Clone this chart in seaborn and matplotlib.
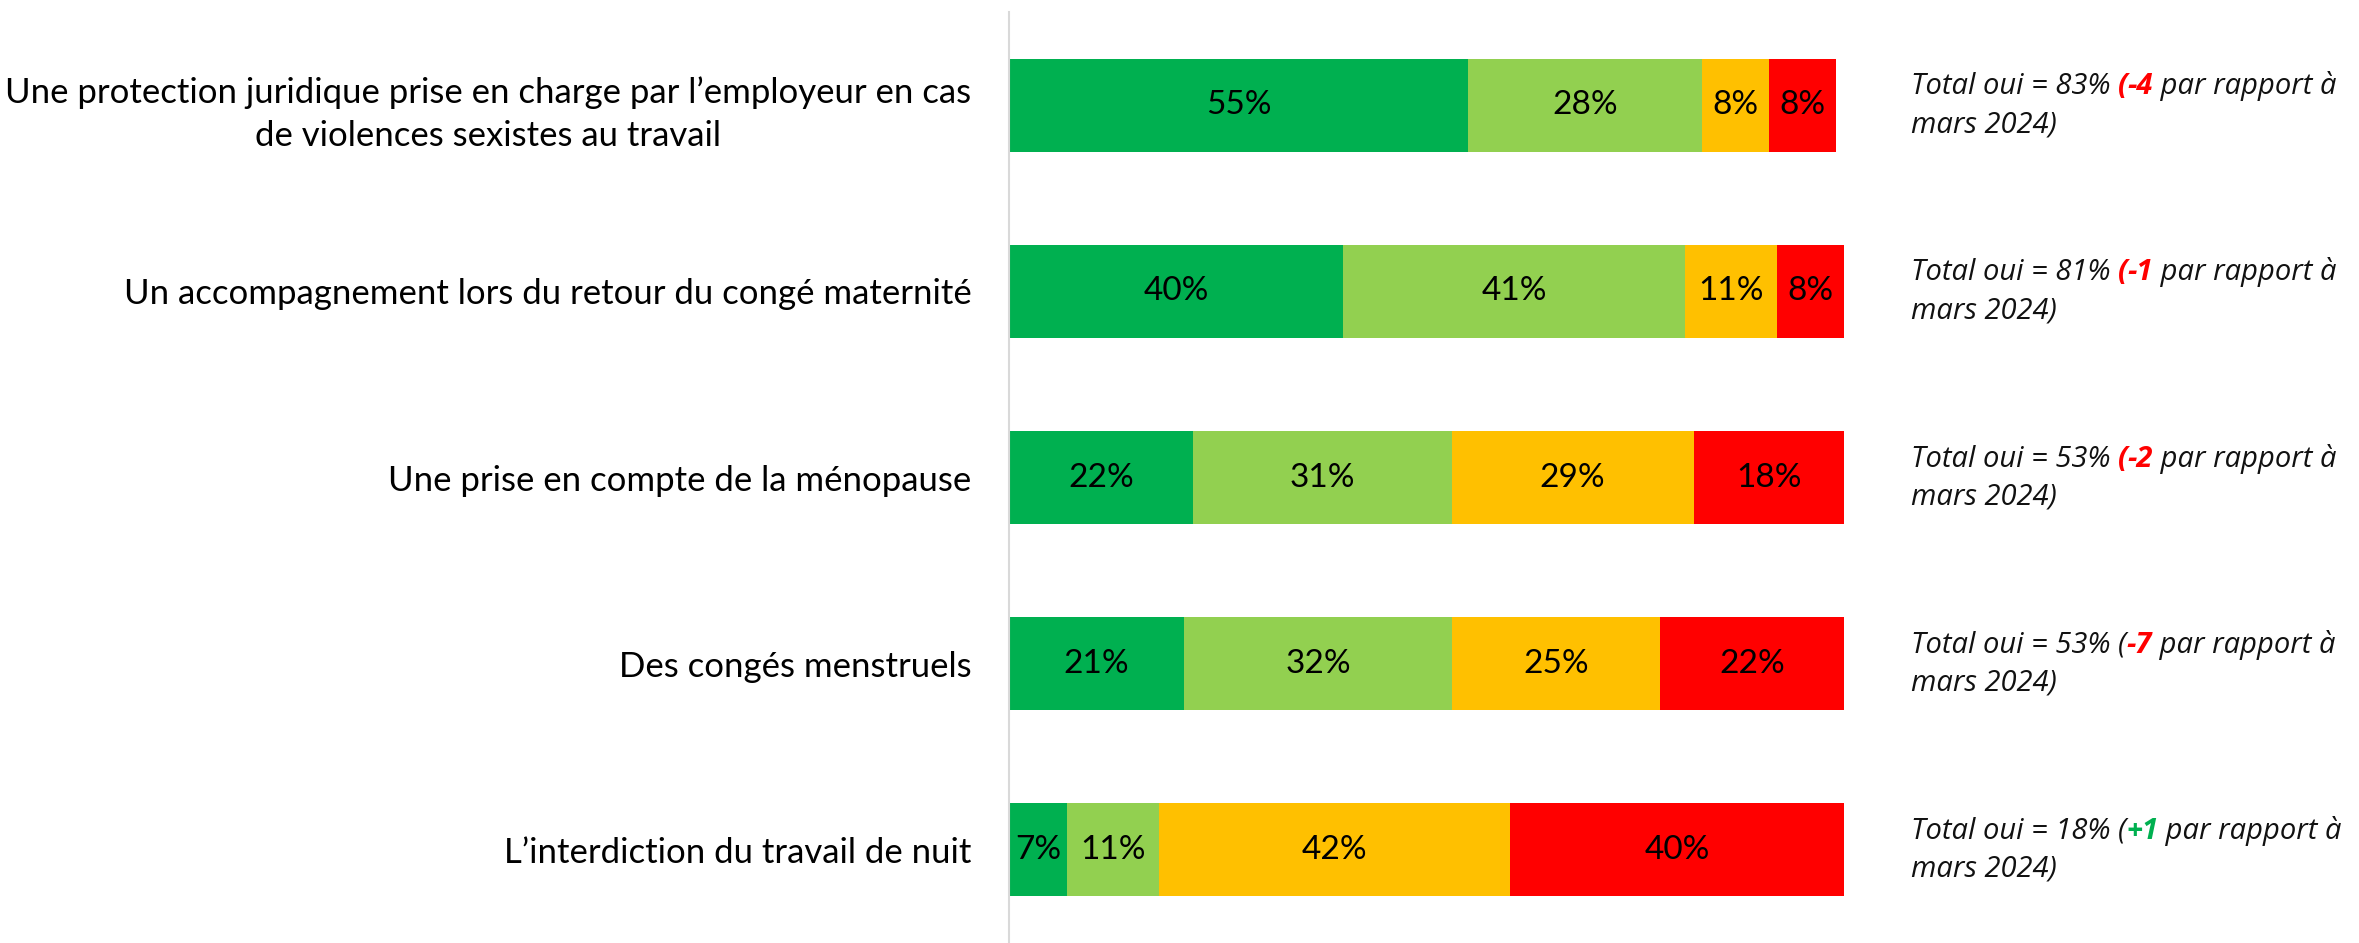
import numpy as np
import seaborn as sns
import matplotlib.pyplot as plt

categories = [
    "Une protection juridique prise en charge par l’employeur en cas\nde violences sexistes au travail",
    "Un accompagnement lors du retour du congé maternité",
    "Une prise en compte de la ménopause",
    "Des congés menstruels",
    "L’interdiction du travail de nuit",
]
oui_tout_a_fait = [55, 40, 22, 21, 7]
oui_plutot = [28, 41, 31, 32, 11]
non_plutot_pas = [8, 11, 29, 25, 42]
non_pas_du_tout = [8, 8, 18, 22, 40]

total_oui = [83, 81, 53, 53, 18]
evolution = ["-4", "-1", "-2", "-7", "+1"]
paren_in_color = [True, True, True, False, False]

sns.set_style("white")
plt.rcParams['font.family'] = ['Lato', 'DejaVu Sans']

fig = plt.figure(figsize=(23.59, 9.43), dpi=100)
ax = fig.add_axes([0.4277, 0.0, 0.354, 0.987])

series = [oui_tout_a_fait, oui_plutot, non_plutot_pas, non_pas_du_tout]
colors = ["#00B050", "#92D050", "#FFC000", "#FF0000"]
cum = np.cumsum(np.array(series), axis=0)

# stacked bars: draw cumulative totals from the back to the front
for i in range(len(series) - 1, -1, -1):
    sns.barplot(x=cum[i], y=categories, orient="h", color=colors[i],
                width=0.5, saturation=1, linewidth=0, ax=ax)

for i, vals in enumerate(series):
    starts = cum[i] - np.array(vals)
    for j, v in enumerate(vals):
        ax.text(starts[j] + v / 2, j, f"{v}%", ha="center", va="center",
                fontsize=24, color="black")

ax.set_xlim(0, 100)
ax.set_ylim(4.5, -0.5)
ax.set_xticks([])
ax.set_xlabel("")
ax.set_ylabel("")
ax.tick_params(axis="y", length=0, pad=27, labelsize=25, labelcolor="black")
for lbl in ax.get_yticklabels():
    lbl.set_multialignment("center")
    lbl.set_linespacing(1.45)
for s in ["top", "right", "bottom"]:
    ax.spines[s].set_visible(False)
ax.spines["left"].set_color("#D9D9D9")
ax.spines["left"].set_linewidth(1.5)

# annotations on the right
afont = dict(fontsize=21, style="italic", family="Open Sans", clip_on=False)
for j in range(len(categories)):
    chg_color = "#00B050" if evolution[j].startswith("+") else "#FF0000"
    t1 = ax.text(108, j - 0.10, f"Total oui = {total_oui[j]}% ", ha="left", va="center",
                 color="#111111", **afont)
    t2 = ax.annotate("(", xy=(1, 0), xycoords=t1, ha="left", va="bottom",
                     color=chg_color if paren_in_color[j] else "#111111",
                     fontweight="bold" if paren_in_color[j] else "normal", **afont)
    t3 = ax.annotate(evolution[j], xy=(1, 0), xycoords=t2, ha="left", va="bottom",
                     color=chg_color, fontweight="bold", **afont)
    ax.annotate(" par rapport à", xy=(1, 0), xycoords=t3, ha="left", va="bottom",
                color="#111111", **afont)
    ax.text(108, j + 0.105, "mars 2024)", ha="left", va="center", color="#111111", **afont)

fig.savefig("out.png", dpi=100, facecolor="white")
